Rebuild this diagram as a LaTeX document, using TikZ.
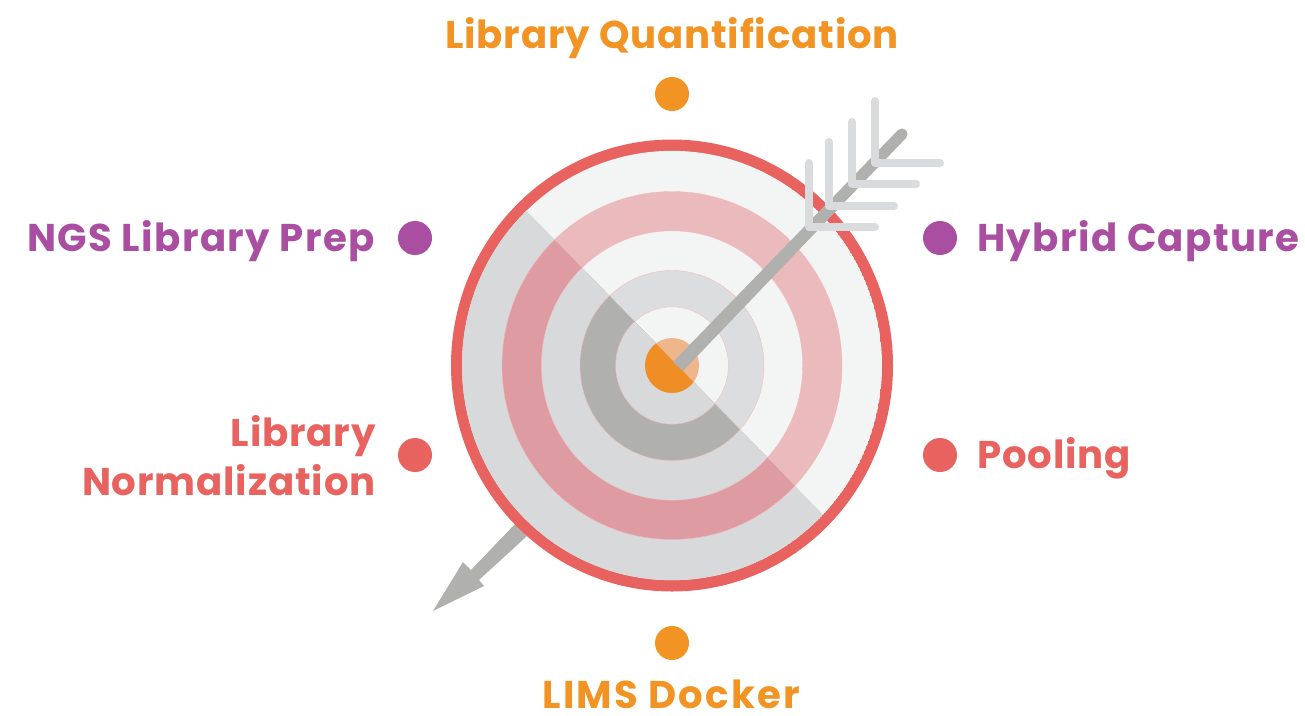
\documentclass[tikz,border=0pt]{standalone}
\usepackage{fontspec}
\newfontfamily\lblA[LetterSpace=2.2]{Poppins Bold}
\newfontfamily\lblB[LetterSpace=3.6]{Poppins Bold}
\newfontfamily\lblC[LetterSpace=5.6]{Poppins Bold}
\definecolor{cOr}{HTML}{F29423}
\definecolor{cCen}{HTML}{EE8E24}
\definecolor{cCenL}{HTML}{EFB68B}
\definecolor{cPu}{HTML}{A94EA0}
\definecolor{cRe}{HTML}{E8625F}
\definecolor{cLt}{HTML}{F3F5F5}
\definecolor{cPk}{HTML}{EABABD}
\definecolor{cGr}{HTML}{DCDDDF}
\definecolor{cGd}{HTML}{D7D9DB}
\definecolor{cRd}{HTML}{DF9BA2}
\definecolor{cDk}{HTML}{B0B0AE}
\definecolor{cFl}{HTML}{DADBDD}
\tikzset{
 lab/.style={inner sep=0pt},
 dotm/.style={circle,minimum size=25.5pt,inner sep=0pt},
 flet/.style={line width=6pt,cFl,line cap=round,line join=round},
 edge/.style={draw=cRe!45,line width=0.25pt},
}
\newcommand{\sz}{\fontsize{29}{38.5}\selectfont}
\begin{document}
\begin{tikzpicture}[x=0.75pt,y=-0.75pt]
\useasboundingbox (0,0) rectangle (1305,715);
\coordinate (c) at (672,365.5);
% lower arrow part, behind the target
\fill[cDk] (433,611) -- (463,562) -- (471,570) -- (515,524) -- (527,536) -- (479,580) -- (484,586) -- cycle;
% red rim
\fill[cRe] (c) ellipse [x radius=165.75pt, y radius=169.5pt];
\begin{scope}
\clip (c) ellipse [x radius=157.5pt, y radius=161pt];
\fill[cLt] (c) ellipse [x radius=157.5pt, y radius=161pt];
\fill[cPk,edge] (c) ellipse [x radius=127.5pt, y radius=130.5pt];
\fill[cLt,edge] (c) ellipse [x radius=98pt, y radius=101pt];
\fill[cGr,edge] (c) ellipse [x radius=69pt, y radius=71.25pt];
\fill[cLt,edge] (c) ellipse [x radius=42.25pt, y radius=44pt];
\clip (227,-96) -- (1125,824) -- (-200,824) -- cycle;
\fill[cGd] (c) ellipse [x radius=157.5pt, y radius=161pt];
\fill[cRd,edge] (c) ellipse [x radius=127.5pt, y radius=130.5pt];
\fill[cGd,edge] (c) ellipse [x radius=98pt, y radius=101pt];
\fill[cDk,edge] (c) ellipse [x radius=69pt, y radius=71.25pt];
\fill[cGd,edge] (c) ellipse [x radius=42.25pt, y radius=44pt];
\end{scope}
% bull's eye
\fill[cCenL] (c) ellipse [x radius=20.25pt, y radius=20.6pt];
\begin{scope}
\clip (227,-96) -- (1125,824) -- (-200,824) -- cycle;
\fill[cCen] (c) ellipse [x radius=20.25pt, y radius=20.6pt];
\end{scope}
% shaft
\fill[cDk] (673,362) -- (683,371) -- (906,138) -- (898,130) -- cycle;
\fill[cDk] (902,134) circle [radius=4.2pt];
% fletching
\foreach \cx/\cy/\tp/\rt in {809/227/163/875, 829/206/142/894, 852/184/122/916, 875/163/101/940}{
  \draw[flet] (\cx,\tp) -- (\cx,\cy) -- (\rt,\cy);
}
% labels and dots
\node[lab,text=cOr,anchor=base] (t1) at (672,48) {\lblA\sz Library Quantification};
\node[dotm,fill=cOr] (d1) at (672,94) {};
\node[lab,text=cPu,anchor=base east] (t2) at (375,251) {\lblB\sz NGS Library Prep};
\node[dotm,fill=cPu] (d2) at (415,238) {};
\node[lab,text=cPu,anchor=base west] (t3) at (977,251) {\lblB\sz Hybrid Capture};
\node[dotm,fill=cPu] (d3) at (940,238) {};
\node[lab,text=cRe,anchor=base east] (t4a) at (376,446) {\lblA\sz Library};
\node[lab,text=cRe,anchor=base east] (t4b) at (376,495) {\lblA\sz Normalization};
\node[dotm,fill=cRe] (d4) at (415,455) {};
\node[lab,text=cRe,anchor=base west] (t5) at (977,468) {\lblA\sz Pooling};
\node[dotm,fill=cRe] (d5) at (940,455) {};
\node[dotm,fill=cOr] (d6) at (672,643) {};
\node[lab,text=cOr,anchor=base] (t6) at (671,708) {\lblC\sz LIMS Docker};
\end{tikzpicture}
\end{document}
